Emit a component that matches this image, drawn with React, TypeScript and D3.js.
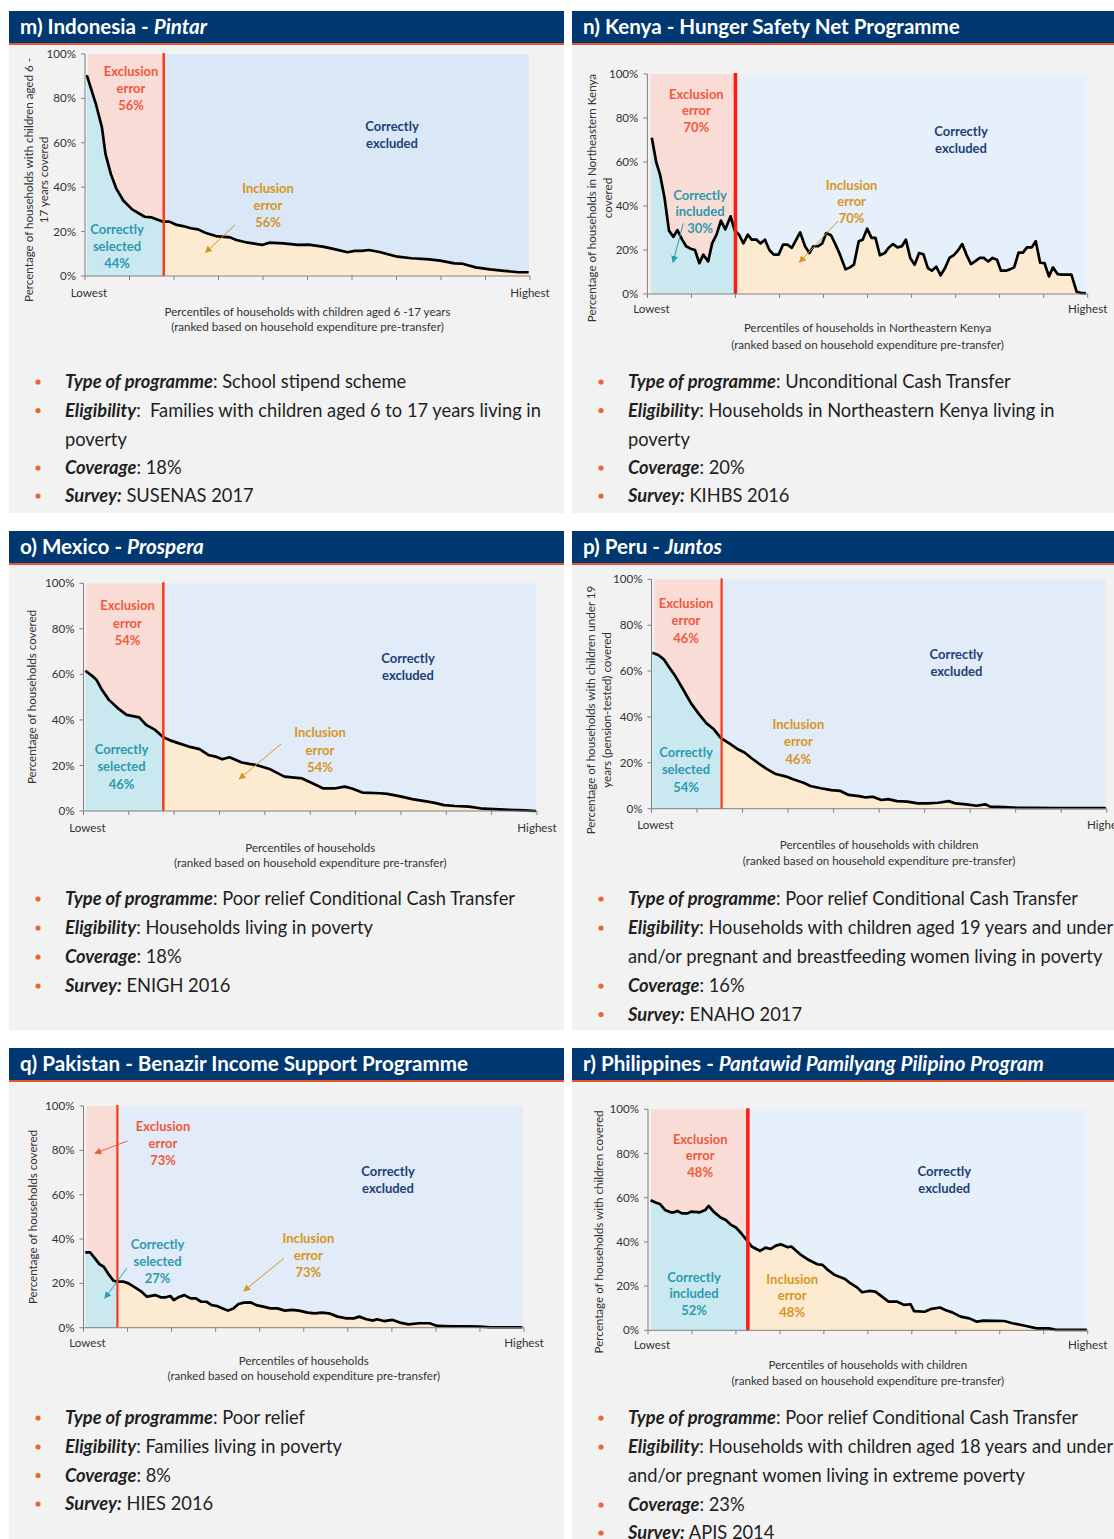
import React from 'react';
import * as d3 from 'd3';

const FONT = "Lato, 'Noto Sans', sans-serif";

// ---------- DATA ----------
const yTicks = [0, 20, 40, 60, 80, 100];
const xTicks = [0, 10, 20, 30, 40, 50, 60, 70, 80, 90, 100];

// m) Indonesia
const idnX = [0.4, 2.4, 3.8, 4.6, 5.8, 7.0, 8.6, 10.6, 13.4, 15, 17.4, 19, 20.6, 22, 23.8, 25.4, 27, 29.4, 32.6, 34, 36.6, 39.8, 41.4, 44.6, 47.8, 50.2, 53.4, 55.8, 59, 60.6, 62.2, 63.8, 66.2, 70.2, 73.4, 77.4, 79.8, 83, 84.6, 87.8, 91, 94.2, 97.4, 99.7];
const idnY = [90.5, 77.8, 67, 55, 46, 39.5, 34, 30, 26.7, 26.4, 24.5, 24.5, 23, 22.5, 21.5, 21, 19.5, 18, 17.4, 16.2, 15, 14, 15, 14.7, 14, 14.1, 13.2, 12.2, 10.7, 11.3, 11.3, 11.7, 10.8, 8.7, 8, 7.5, 6.9, 5.7, 5.6, 3.9, 3, 2.3, 1.7, 1.7];

// n) Kenya
const kenX = [1, 2, 2.9, 3.9, 4.9, 5.9, 6.8, 7.9, 8.8, 9.8, 10.8, 11.8, 12.7, 13.8, 14.7, 15.7, 16.7, 17.7, 18.9, 19.8, 20.8, 21.8, 22.8, 23.7, 24.8, 25.7, 26.7, 27.7, 28.7, 29.8, 30.8, 31.8, 32.8, 33.8, 34.7, 35.8, 36.8, 37.7, 38.8, 39.7, 40.6, 41.7, 42.6, 43.6, 45, 46, 46.9, 48, 48.9, 49.9, 50.9, 51.8, 52.8, 53.9, 54.8, 55.8, 56.8, 57.8, 58.7, 59.7, 60.7, 61.7, 62.7, 63.7, 64.6, 65.6, 66.6, 67.6, 68.6, 69.6, 70.5, 71.5, 72.5, 73.5, 74.4, 75.5, 76.4, 77.4, 78.4, 79.4, 80.3, 81.4, 82.3, 83.3, 84.3, 85.3, 86.2, 87.3, 88.2, 89.2, 90.2, 91.2, 92.1, 93.2, 94.1, 95.1, 96.3, 97.5, 98.4, 99.6];
const kenY = [71, 60, 54, 43.6, 28.8, 26, 29, 24.7, 21.7, 20.6, 20, 14, 17.9, 14.8, 23, 27, 33.3, 29.4, 35.3, 29, 27, 23, 27, 24.7, 24.7, 23, 24.7, 20, 17.9, 17.9, 22.4, 22.4, 21, 24.7, 28, 21.7, 18.6, 21.7, 21.7, 23, 27.7, 26.7, 23, 18.6, 11.2, 12.1, 13.3, 24, 24.7, 29.7, 25.5, 25.5, 17.6, 18.6, 21, 22.7, 21.2, 21.7, 24.7, 16.4, 13.3, 18.6, 18, 11.8, 10.6, 12.4, 8.5, 11.8, 16.4, 17.7, 19.7, 22.7, 17.7, 13.6, 14.8, 16.4, 16.4, 14.8, 16.4, 15.6, 10.6, 10.6, 11.2, 12.1, 18.8, 18.8, 21.2, 21.2, 24, 14.2, 14, 8, 12.1, 9, 8.8, 8.8, 8.8, 1, 0.5, 0.3];

// o) Mexico
const mexX = [0.4, 1.7, 2.9, 4.1, 5.6, 7.6, 9.5, 12.3, 13.8, 15.8, 17.6, 19.3, 20.9, 23.2, 25.6, 27.5, 29.1, 30.6, 32.2, 34.9, 36.5, 38.1, 41.2, 44.3, 48.2, 50.6, 52.9, 55.3, 57.6, 59.2, 61.5, 65.4, 67, 70.1, 72.5, 77.2, 79.5, 81.9, 85, 88.1, 92.8, 97.5, 99.8];
const mexY = [61.6, 59.7, 57.5, 53.1, 48.8, 45.1, 42.2, 41.1, 37.8, 35.6, 32.4, 30.9, 29.8, 28.3, 27.2, 24.6, 23.9, 22.7, 23.6, 21.3, 20.7, 20.2, 18.3, 15.1, 14.3, 12.1, 9.9, 9.9, 10.7, 9.9, 8.1, 7.8, 7.5, 6.3, 5.2, 3.7, 2.6, 2.2, 1.9, 1.0, 0.6, 0.3, 0];

// p) Peru
const perX = [0.2, 1.5, 2.7, 3.8, 5.3, 6.8, 8.7, 10.6, 12.1, 13.7, 15.3, 17.1, 19, 20.5, 22, 23.5, 25.1, 27.3, 29.6, 31.1, 33.4, 34.9, 37.2, 39.5, 41.4, 43.3, 45.6, 47.1, 48.6, 50.5, 52, 53.9, 56.2, 58.5, 60.7, 63, 65.3, 66.8, 69.1, 71.4, 73.3, 74.4, 77.4, 80.5, 83.5, 88.8, 99.8];
const perY = [68, 67, 65.1, 61.9, 57.6, 52.5, 45.9, 40.8, 37.2, 34.6, 30.7, 28.5, 25.9, 24.4, 22, 19.8, 17.6, 15.1, 14, 12.8, 11.3, 9.9, 8.9, 8.1, 7.8, 6, 5.5, 4.9, 5.2, 3.8, 4.2, 3.3, 3.1, 2.3, 2.3, 2.6, 3.3, 2.3, 1.9, 1.3, 1.9, 0.9, 0.7, 0.4, 0.4, 0.3, 0.3];

// q) Pakistan
const pakX = [0.4, 1.5, 2.6, 3.6, 4.6, 5.8, 6.8, 7.8, 9, 10.2, 11.4, 13, 14.4, 16.3, 17.5, 18.7, 19.7, 20.5, 21.5, 22.9, 24.3, 25.5, 26.7, 27.9, 29.1, 30.3, 31.6, 32.8, 34, 35.2, 36.4, 38, 39.2, 40.8, 42.4, 44, 45.7, 47.3, 48.9, 50.9, 52.5, 54.1, 55.7, 57.7, 59.7, 61.4, 62.6, 64.2, 65.8, 66.6, 68.2, 70.2, 71.8, 73.8, 76.2, 78.6, 80.3, 83.5, 87.5, 89.9, 92.4, 99.6];
const pakY = [34, 34, 31.3, 28.7, 27.5, 23.8, 21.2, 20.8, 20.8, 20, 18.5, 16.5, 14, 14.7, 13.7, 13.7, 14.3, 12.5, 13.7, 14.7, 13.2, 13.2, 11.7, 11.7, 10.2, 9.8, 8.7, 7.7, 8.7, 10.7, 11.3, 11.4, 10.2, 9.5, 8.7, 8.7, 7.7, 8, 7.7, 6.8, 6.5, 6.8, 6.5, 5, 4.2, 4.2, 5, 3.8, 3.2, 3.8, 3, 3.5, 2.3, 1.5, 2, 2, 0.8, 0.6, 0.6, 0.5, 0.2, 0.2];

// r) Philippines
const phlX = [0.6, 1.6, 2.8, 3.9, 5.1, 5.9, 6.7, 7.7, 9, 9.8, 11.8, 13, 13.8, 14.9, 16.5, 17.7, 18.9, 20, 21.2, 22.4, 23.6, 25.5, 26.7, 27.9, 29.1, 30.2, 31.8, 32.6, 34.6, 36.6, 38.5, 39.7, 40.9, 42.5, 44.8, 46, 47.6, 48.7, 50.3, 51.7, 52.7, 54.7, 56.6, 58.2, 59.7, 60.5, 62.9, 64.5, 66.4, 67.6, 69.2, 71.1, 73.1, 74.8, 76.3, 81, 82.9, 84.9, 86.5, 88.4, 91.2, 92.8, 99.8];
const phlY = [58.8, 57.9, 57, 54.4, 53.4, 53.4, 54, 52.9, 52.9, 53.7, 53.4, 54.4, 56.3, 53.7, 51, 49.9, 47.7, 46.5, 43.9, 40.9, 37.9, 35.9, 37.4, 36.8, 38.3, 38.9, 37.6, 37.9, 34.4, 31.8, 29.9, 29.6, 27.3, 25, 23.2, 21.3, 19.3, 17.2, 17.8, 17.5, 16, 13, 13, 11.5, 11.8, 8.7, 8.4, 9.7, 10.3, 9.2, 8.1, 6.2, 5.4, 3.9, 4.4, 4.2, 3.2, 2.4, 1.7, 0.9, 0.9, 0.2, 0.2];

// targeting threshold (percentile where the red line sits)
const thresholds = [17.7, 20, 17.6, 15.4, 7.7, 22.7];

// error / accuracy rates shown on charts
const exclusionRates = ['56%', '70%', '54%', '46%', '73%', '48%'];
const inclusionRates = ['56%', '70%', '54%', '46%', '73%', '48%'];
const correctRates = ['44%', '30%', '46%', '54%', '27%', '52%'];
const correctWords = ['selected', 'included', 'selected', 'selected', 'selected', 'included'];

// ---------- TEXT ----------
type Bl = { label?: string; sep?: string; text: string; cont?: boolean };

const idnBullets: Bl[] = [
  { label: 'Type of programme', sep: ': ', text: 'School stipend scheme' },
  { label: 'Eligibility', sep: ':  ', text: 'Families with children aged 6 to 17 years living in' },
  { cont: true, text: 'poverty' },
  { label: 'Coverage', sep: ': ', text: '18%' },
  { label: 'Survey:', sep: ' ', text: 'SUSENAS 2017' },
];
const kenBullets: Bl[] = [
  { label: 'Type of programme', sep: ': ', text: 'Unconditional Cash Transfer' },
  { label: 'Eligibility', sep: ': ', text: 'Households in Northeastern Kenya living in' },
  { cont: true, text: 'poverty' },
  { label: 'Coverage', sep: ': ', text: '20%' },
  { label: 'Survey:', sep: ' ', text: 'KIHBS 2016' },
];
const mexBullets: Bl[] = [
  { label: 'Type of programme', sep: ': ', text: 'Poor relief Conditional Cash Transfer' },
  { label: 'Eligibility', sep: ': ', text: 'Households living in poverty' },
  { label: 'Coverage', sep: ': ', text: '18%' },
  { label: 'Survey:', sep: ' ', text: 'ENIGH 2016' },
];
const perBullets: Bl[] = [
  { label: 'Type of programme', sep: ': ', text: 'Poor relief Conditional Cash Transfer' },
  { label: 'Eligibility', sep: ': ', text: 'Households with children aged 19 years and under' },
  { cont: true, text: 'and/or pregnant and breastfeeding women living in poverty' },
  { label: 'Coverage', sep: ': ', text: '16%' },
  { label: 'Survey:', sep: ' ', text: 'ENAHO 2017' },
];
const pakBullets: Bl[] = [
  { label: 'Type of programme', sep: ': ', text: 'Poor relief' },
  { label: 'Eligibility', sep: ': ', text: 'Families living in poverty' },
  { label: 'Coverage', sep: ': ', text: '8%' },
  { label: 'Survey:', sep: ' ', text: 'HIES 2016' },
];
const phlBullets: Bl[] = [
  { label: 'Type of programme', sep: ': ', text: 'Poor relief Conditional Cash Transfer' },
  { label: 'Eligibility', sep: ': ', text: 'Households with children aged 18 years and under' },
  { cont: true, text: 'and/or pregnant women living in extreme poverty' },
  { label: 'Coverage', sep: ': ', text: '23%' },
  { label: 'Survey:', sep: ' ', text: 'APIS 2014' },
];

// ---------- COLORS ----------
const C = {
  header: '#003871',
  headerLine: '#e9532d',
  panel: '#f2f2f2',
  pink: '#f9dcd5',
  teal: '#c9e8ef',
  beige: '#fdebd1',
  excl: '#f0593b',
  exclDark: '#1e3f78',
  incl: '#d6961c',
  sel: '#2c9aaf',
  axis: '#808080',
  tick: '#333333',
  text: '#1f1f1f',
  bullet: '#ec6535',
};

type Ann = { lines: string[]; cx: number; cy: number; color: string; dy?: number };
type Arrow = { x1: number; y1: number; x2: number; y2: number; color: string };

type Panel = {
  id: string;
  col: number;
  row: number;
  head: string;
  headItalic?: string;
  xs: number[];
  ys: number[];
  thr: number;
  x0: number; x1: number; yTop: number; yBot: number;
  blue: string;
  redW: number; redColor: string;
  yTitle: string[]; yTitleX: number[]; yTitleCy: number;
  lowY: number; xTitle: string[]; xTitleY: number[];
  anns: Ann[];
  arrows: Arrow[];
  bullets: Bl[];
  bulletY: number[];
};

const rowHeaderTop = [11, 531, 1048];
const rowPanelBottom = [513, 1030, 1539];
const colX = [[9, 564], [572, 1114]];

function makeAnns(i: number, ex: [number, number], ce: [number, number], inc: [number, number], sel: [number, number], sp = 17): Ann[] {
  return [
    { lines: ['Exclusion', 'error', exclusionRates[i]], cx: ex[0], cy: ex[1], color: C.excl, dy: sp },
    { lines: ['Correctly', 'excluded'], cx: ce[0], cy: ce[1], color: C.exclDark, dy: sp },
    { lines: ['Inclusion', 'error', inclusionRates[i]], cx: inc[0], cy: inc[1], color: C.incl, dy: sp },
    { lines: ['Correctly', correctWords[i], correctRates[i]], cx: sel[0], cy: sel[1], color: C.sel, dy: sp },
  ];
}

const panels: Panel[] = [
  {
    id: 'm', col: 0, row: 0, head: 'm) Indonesia - ', headItalic: 'Pintar',
    xs: idnX, ys: idnY, thr: thresholds[0],
    x0: 85, x1: 530, yTop: 54, yBot: 276, blue: '#d9e7f7', redW: 2.5, redColor: '#f93a1a',
    yTitle: ['Percentage of households with children aged 6 -', '17 years covered'], yTitleX: [29, 44], yTitleCy: 180,
    lowY: 293, xTitle: ['Percentiles of households with children aged 6 -17 years', '(ranked based on household expenditure pre-transfer)'], xTitleY: [312, 327],
    anns: makeAnns(0, [131, 71], [392, 126], [268, 188], [117, 229]),
    arrows: [{ x1: 235, y1: 225, x2: 205.5, y2: 252.5, color: C.incl }],
    bullets: idnBullets, bulletY: [382, 410.5, 439.5, 468, 496],
  },
  {
    id: 'n', col: 1, row: 0, head: 'n) Kenya - Hunger Safety Net Programme',
    xs: kenX, ys: kenY, thr: thresholds[1],
    x0: 647.4, x1: 1087.7, yTop: 74, yBot: 294, blue: '#e6f0fa', redW: 3.5, redColor: '#ff1a12',
    yTitle: ['Percentage of households in Northeastern Kenya', 'covered'], yTitleX: [592, 607.5], yTitleCy: 198,
    lowY: 309, xTitle: ['Percentiles of households in Northeastern Kenya', '(ranked based on household expenditure pre-transfer)'], xTitleY: [328, 344.5],
    anns: makeAnns(1, [696.4, 94], [961, 131.7], [851.6, 185], [700, 195], 16.8),
    arrows: [
      { x1: 838, y1: 221, x2: 799.4, y2: 262.3, color: C.incl },
      { x1: 683.3, y1: 223.3, x2: 673, y2: 262.3, color: C.sel },
    ],
    bullets: kenBullets, bulletY: [382, 410.5, 439.5, 468, 496],
  },
  {
    id: 'o', col: 0, row: 1, head: 'o) Mexico - ', headItalic: 'Prospera',
    xs: mexX, ys: mexY, thr: thresholds[2],
    x0: 83.5, x1: 537, yTop: 583.3, yBot: 811, blue: '#e2ebf8', redW: 2.5, redColor: '#f93a1a',
    yTitle: ['Percentage of households covered'], yTitleX: [32], yTitleCy: 697,
    lowY: 828, xTitle: ['Percentiles of households', '(ranked based on household expenditure pre-transfer)'], xTitleY: [847.7, 863.3],
    anns: makeAnns(2, [127.5, 605.7], [408, 658.3], [320, 732.7], [121.5, 749], 17.5),
    arrows: [{ x1: 281, y1: 744, x2: 239.2, y2: 779, color: C.incl }],
    bullets: mexBullets, bulletY: [899, 928, 957, 986],
  },
  {
    id: 'p', col: 1, row: 1, head: 'p) Peru - ', headItalic: 'Juntos',
    xs: perX, ys: perY, thr: thresholds[3],
    x0: 651.5, x1: 1106.7, yTop: 579.3, yBot: 808.7, blue: '#e2ebf8', redW: 2.2, redColor: '#f93a1a',
    yTitle: ['Percentage of households with children under 19', 'years (pension-tested) covered'], yTitleX: [591, 607], yTitleCy: 710,
    lowY: 825, xTitle: ['Percentiles of households with children', '(ranked based on household expenditure pre-transfer)'], xTitleY: [845, 861],
    anns: makeAnns(3, [686, 603.3], [956.4, 654], [798.4, 724], [686, 752], 17.5),
    arrows: [],
    bullets: perBullets, bulletY: [899, 928, 957, 986, 1014.5],
  },
  {
    id: 'q', col: 0, row: 2, head: 'q) Pakistan - Benazir Income Support Programme',
    xs: pakX, ys: pakY, thr: thresholds[4],
    x0: 83.5, x1: 524, yTop: 1106, yBot: 1327.7, blue: '#e2ebf8', redW: 2.2, redColor: '#f93a1a',
    yTitle: ['Percentage of households covered'], yTitleX: [33], yTitleCy: 1217,
    lowY: 1342.7, xTitle: ['Percentiles of households', '(ranked based on household expenditure pre-transfer)'], xTitleY: [1361, 1376],
    anns: makeAnns(4, [163, 1126.7], [388, 1171.7], [308.4, 1238.3], [157.6, 1244], 17),
    arrows: [
      { x1: 127.5, y1: 1141, x2: 94.9, y2: 1153.3, color: C.excl },
      { x1: 283.9, y1: 1258.3, x2: 243.8, y2: 1291, color: C.incl },
      { x1: 126.8, y1: 1268.3, x2: 104.8, y2: 1298.3, color: C.sel },
    ],
    bullets: pakBullets, bulletY: [1418, 1447, 1475.5, 1504],
  },
  {
    id: 'r', col: 1, row: 2, head: 'r) Philippines - ', headItalic: 'Pantawid Pamilyang Pilipino Program',
    xs: phlX, ys: phlY, thr: thresholds[5],
    x0: 648, x1: 1087.7, yTop: 1109.3, yBot: 1330.3, blue: '#e6f0fa', redW: 3.5, redColor: '#ff1a12',
    yTitle: ['Percentage of households with children covered'], yTitleX: [599], yTitleCy: 1232,
    lowY: 1345, xTitle: ['Percentiles of households with children', '(ranked based on household expenditure pre-transfer)'], xTitleY: [1365, 1380.5],
    anns: makeAnns(5, [700.2, 1139], [944.3, 1171.7], [792.2, 1279], [694, 1277], 16.5),
    arrows: [],
    bullets: phlBullets, bulletY: [1418, 1447, 1476, 1505, 1533],
  },
];

const arrowColors = [C.incl, C.sel, C.excl];

const SMALL = 11.6;

function PanelView({ p }: { p: Panel }) {
  const [cx0, cx1] = colX[p.col];
  const hTop = rowHeaderTop[p.row];
  const x = d3.scaleLinear().domain([0, 100]).range([p.x0, p.x1]);
  const y = d3.scaleLinear().domain([0, 100]).range([p.yBot, p.yTop]);
  const pts: [number, number][] = p.xs.map((v, i) => [v, p.ys[i]]);
  const area = d3.area<[number, number]>().x(d => x(d[0])).y0(y(0)).y1(d => y(d[1]));
  const line = d3.line<[number, number]>().x(d => x(d[0])).y(d => y(d[1]));
  const tx = x(p.thr);
  const textX = p.col === 0 ? 65 : 628;
  const dotX = p.col === 0 ? 38 : 601;
  const headX = p.col === 0 ? 20 : 583;
  const xMid = (p.x0 + p.x1) / 2;

  return (
    <g>
      <defs>
        <clipPath id={`cl-${p.id}`}><rect x={p.x0} y={p.yTop - 5} width={tx - p.x0} height={p.yBot - p.yTop + 10} /></clipPath>
        <clipPath id={`cr-${p.id}`}><rect x={tx} y={p.yTop - 5} width={p.x1 - tx} height={p.yBot - p.yTop + 10} /></clipPath>
      </defs>
      <rect x={cx0} y={hTop + 34} width={cx1 - cx0} height={rowPanelBottom[p.row] - hTop - 34} fill={C.panel} />
      <rect x={cx0} y={hTop} width={cx1 - cx0} height={32} fill={C.header} />
      <rect x={cx0} y={hTop + 32} width={cx1 - cx0} height={2} fill={C.headerLine} />
      <text x={headX} y={hTop + 22.5} fill="#fff" fontFamily={FONT} fontWeight={700} fontSize={20.6}>
        <tspan>{p.head}</tspan>
        {p.headItalic ? <tspan fontStyle="italic">{p.headItalic}</tspan> : null}
      </text>

      <rect x={x(0) + 3} y={y(100)} width={tx - x(0) - 3} height={y(0) - y(100)} fill={C.pink} />
      <rect x={tx} y={y(100)} width={x(100) - tx - 1} height={y(0) - y(100)} fill={p.blue} />
      <path d={area(pts) || ''} fill={C.teal} clipPath={`url(#cl-${p.id})`} />
      <path d={area(pts) || ''} fill={C.beige} clipPath={`url(#cr-${p.id})`} />
      <path d={line(pts) || ''} fill="none" stroke="#000" strokeWidth={2.7} strokeLinejoin="round" />
      <line x1={tx} x2={tx} y1={y(100) - 1} y2={y(0)} stroke={p.redColor} strokeWidth={p.redW} />

      <line x1={x(0)} x2={x(0)} y1={y(100)} y2={y(0)} stroke={C.axis} strokeWidth={1} />
      <line x1={x(0)} x2={x(100)} y1={y(0)} y2={y(0)} stroke={C.axis} strokeWidth={1} />
      {yTicks.map(t => (
        <g key={`yt${t}`}>
          <line x1={x(0) - 4} x2={x(0)} y1={y(t)} y2={y(t)} stroke={C.axis} />
          <text x={x(0) - 9} y={y(t)} dy="0.35em" textAnchor="end" fontFamily={FONT} fontSize={SMALL} fill={C.tick}>{t}%</text>
        </g>
      ))}
      {xTicks.map(t => (
        <line key={`xt${t}`} x1={x(t)} x2={x(t)} y1={y(0)} y2={y(0) + 4} stroke={C.axis} />
      ))}
      <text x={x(0) + 4} y={p.lowY} dy="0.35em" textAnchor="middle" fontFamily={FONT} fontSize={SMALL} fill={C.tick}>Lowest</text>
      <text x={x(100)} y={p.lowY} dy="0.35em" textAnchor="middle" fontFamily={FONT} fontSize={SMALL} fill={C.tick}>Highest</text>
      {p.xTitle.map((s, i) => (
        <text key={`xtt${i}`} x={xMid} y={p.xTitleY[i]} dy="0.35em" textAnchor="middle" fontFamily={FONT} fontSize={SMALL} fill={C.tick}>{s}</text>
      ))}
      {p.yTitle.map((s, i) => (
        <text key={`ytt${i}`} transform={`translate(${p.yTitleX[i]},${p.yTitleCy}) rotate(-90)`} dy="0.35em" textAnchor="middle" fontFamily={FONT} fontSize={SMALL} fill={C.tick}>{s}</text>
      ))}

      {p.anns.map((a, i) => (
        <g key={`an${i}`}>
          {a.lines.map((s, j) => (
            <text key={j} x={a.cx} y={a.cy + j * (a.dy || 17)} dy="0.35em" textAnchor="middle" fontFamily={FONT} fontWeight={700} fontSize={13} fill={a.color}>{s}</text>
          ))}
        </g>
      ))}
      {p.arrows.map((a, i) => (
        <line key={`ar${i}`} x1={a.x1} y1={a.y1} x2={a.x2} y2={a.y2} stroke={a.color} strokeWidth={1} markerEnd={`url(#ah-${arrowColors.indexOf(a.color)})`} />
      ))}

      {p.bullets.map((b, i) => (
        <g key={`b${i}`}>
          {!b.cont && <circle cx={dotX} cy={p.bulletY[i]} r={2.6} fill={C.bullet} />}
          <text x={textX} y={p.bulletY[i]} dy="0.35em" fontFamily={FONT} fontSize={18.3} fill={C.text} style={{ whiteSpace: 'pre' }}>
            {b.label ? <tspan fontWeight={700} fontStyle="italic">{b.label}</tspan> : null}
            {b.sep ? <tspan>{b.sep}</tspan> : null}
            <tspan>{b.text}</tspan>
          </text>
        </g>
      ))}
    </g>
  );
}

export default function App() {
  return (
    <div style={{ position: 'absolute', left: 0, top: 0, width: 1114, height: 1539, overflow: 'hidden', background: '#fff' }}>
      <svg width={1114} height={1539} viewBox="0 0 1114 1539" style={{ display: 'block' }}>
        <defs>
          {arrowColors.map((c, i) => (
            <marker key={i} id={`ah-${i}`} viewBox="0 0 10 10" refX={9} refY={5} markerWidth={7} markerHeight={7} markerUnits="userSpaceOnUse" orient="auto">
              <path d="M0,0 L10,5 L0,10 Z" fill={c} />
            </marker>
          ))}
        </defs>
        <rect x={0} y={0} width={1114} height={1539} fill="#fff" />
        {panels.map(p => <PanelView key={p.id} p={p} />)}
      </svg>
    </div>
  );
}
